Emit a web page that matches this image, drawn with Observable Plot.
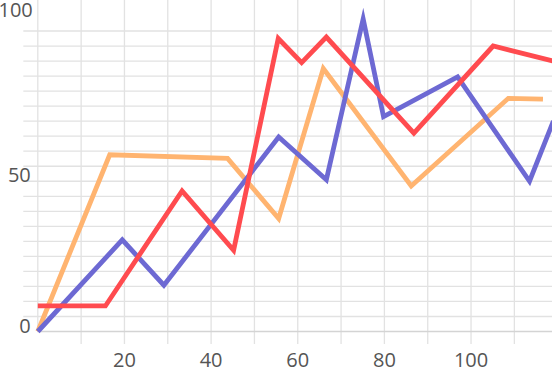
<!DOCTYPE html>
<html>
<head>
<meta charset="utf-8">
<script src="https://cdn.jsdelivr.net/npm/d3@7"></script>
<script src="https://cdn.jsdelivr.net/npm/@observablehq/plot@0.6"></script>
<style>
  html, body { margin: 0; padding: 0; background: #fff; }
  svg { display: block; }
</style>
</head>
<body>
<div id="chart"></div>
<script>
// Series data (x, y)
const blueX   = [0, 19.5, 29.1, 55.6, 66.6, 75.1, 79.8, 96.9, 113.5, 119];
const blueY   = [0, 30.5, 15.4, 64.7, 50.5, 104, 71.5, 84.7, 50, 70];
const redX    = [0, 15.6, 33.3, 45.2, 55.5, 60.9, 66.6, 86.8, 105.1, 119];
const redY    = [8.5, 8.5, 46.8, 27, 97.5, 89.5, 98, 66, 95, 90];
const orangeX = [0, 16.6, 43.8, 55.6, 65.9, 86.2, 108.6, 116.6];
const orangeY = [0, 58.8, 57.6, 37.6, 87.5, 48.4, 77.6, 77.3];

const xTicks = [20, 40, 60, 80, 100];
const yTicks = [0, 50, 100];
const xGrid = d3.range(10, 111, 10);
const yGrid = d3.range(5, 101, 5);

const toPts = (xs, ys) => xs.map((x, i) => ({x, y: ys[i]}));
const blue = toPts(blueX, blueY);
const red = toPts(redX, redY);
const orange = toPts(orangeX, orangeY);

const lineStyle = {x: "x", y: "y", strokeWidth: 4.8, strokeLinejoin: "miter", strokeMiterlimit: 10, strokeLinecap: "butt"};
const labelFont = "'Open Sans', sans-serif";

const chart = Plot.plot({
  width: 552,
  height: 368,
  marginLeft: 37.3,
  marginRight: 0,
  marginTop: 30.5,
  marginBottom: 37,
  style: {fontFamily: labelFont, background: "#fff"},
  x: {domain: [0, 118.8], axis: null},
  y: {domain: [0, 100], axis: null},
  marks: [
    Plot.ruleY(yGrid, {stroke: "#e2e2e2", strokeWidth: 1.3, insetLeft: -14}),
    Plot.ruleX(xGrid, {stroke: "#e2e2e2", strokeWidth: 1.3, insetTop: -31, insetBottom: -13}),
    Plot.ruleX([0], {stroke: "#e2e2e2", strokeWidth: 1.3, insetTop: -31}),
    Plot.ruleY([0], {stroke: "#d4d4d4", strokeWidth: 1.3}),
    Plot.line(orange, {...lineStyle, stroke: "#ffb470"}),
    Plot.line(blue, {...lineStyle, stroke: "#6d69d3"}),
    Plot.line(red, {...lineStyle, stroke: "#ff4b4f"}),
    Plot.text(xTicks, {x: d => d, frameAnchor: "bottom", lineAnchor: "bottom", dy: 35, fontSize: 20, fill: "#555", fontFamily: labelFont}),
    Plot.text(yTicks.filter(t => t < 100), {y: d => d, frameAnchor: "left", textAnchor: "end", lineAnchor: "bottom", dx: -7, dy: 1, fontSize: 20, fill: "#555", fontFamily: labelFont}),
    Plot.text(yTicks.filter(t => t >= 100), {y: d => d, frameAnchor: "left", textAnchor: "end", lineAnchor: "bottom", dx: -5, dy: -14.5, fontSize: 20, fill: "#555", fontFamily: labelFont})
  ]
});
document.getElementById("chart").appendChild(chart);
</script>
</body>
</html>
